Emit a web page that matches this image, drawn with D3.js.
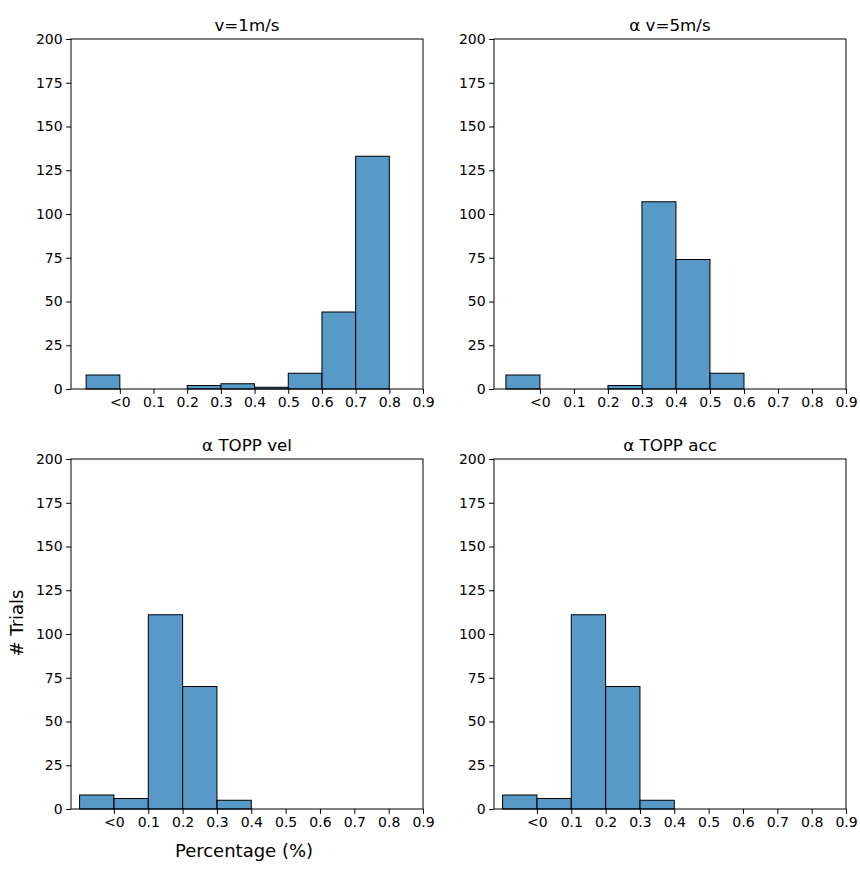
<!DOCTYPE html>
<html><head><meta charset="utf-8">
<script src="https://cdn.jsdelivr.net/npm/d3@7"></script>
<style>
body{margin:0;background:#fff;}
svg{font-family:"DejaVu Sans",sans-serif;}
</style></head>
<body>
<svg id="c" width="860" height="869"></svg>
<script>
// ---- data ----
const titles = ["v=1m/s", "α v=5m/s", "α TOPP vel", "α TOPP acc"];
const binStarts = [-0.1, 0.0, 0.1, 0.2, 0.3, 0.4, 0.5, 0.6, 0.7];
const countsV1 = [8, 0, 0, 2, 3, 1, 9, 44, 133];
const countsV5 = [8, 0, 0, 2, 107, 74, 9];
const countsVel = [8, 6, 111, 70, 5];
const countsAcc = [8, 6, 111, 70, 5];
const binWidth = 0.1;
const xTicks = [0, 0.1, 0.2, 0.3, 0.4, 0.5, 0.6, 0.7, 0.8, 0.9];
const xTickLabels = ["<0", "0.1", "0.2", "0.3", "0.4", "0.5", "0.6", "0.7", "0.8", "0.9"];
const yTicks = [0, 25, 50, 75, 100, 125, 150, 175, 200];
const xLabel = "Percentage (%)";
const yLabel = "# Trials";

const panels = [countsV1, countsV5, countsVel, countsAcc];

// ---- layout ----
const svg = d3.select("#c");
const cols = [71, 494], rows = [39, 459];
const W = 352, H = 350;
const fill = "rgba(31,119,180,0.75)";

panels.forEach((counts, i) => {
  const x0 = cols[i % 2], y0 = rows[Math.floor(i / 2)];
  const bins = counts.map((c, j) => ({x0: binStarts[j], x1: binStarts[j] + binWidth, c}));
  const lo = bins[0].x0, hi = bins[bins.length - 1].x1;
  const xmin = lo - 0.05 * (hi - lo);
  const x = d3.scaleLinear().domain([xmin, 0.9]).range([0, W]);
  const y = d3.scaleLinear().domain([0, 200]).range([H, 0]);
  const g = svg.append("g").attr("transform", `translate(${x0},${y0})`);

  g.selectAll("rect.bar").data(bins).join("rect")
    .attr("class", "bar")
    .attr("x", d => x(d.x0)).attr("width", d => x(d.x1) - x(d.x0))
    .attr("y", d => y(d.c)).attr("height", d => y(0) - y(d.c))
    .attr("fill", fill).attr("stroke", "#000").attr("stroke-width", 1);

  const xa = g.append("g").attr("transform", `translate(0,${H})`)
    .call(d3.axisBottom(x).tickValues(xTicks).tickFormat((d, k) => xTickLabels[k]).tickSize(4.9).tickPadding(3.5));
  const ya = g.append("g")
    .call(d3.axisLeft(y).tickValues(yTicks).tickSize(4.9).tickPadding(3.5));
  [xa, ya].forEach(a => {
    a.select(".domain").remove();
    a.selectAll("text").attr("font-size", "14px").attr("font-family", "DejaVu Sans").attr("fill", "#000");
    a.selectAll("line").attr("stroke", "#000").attr("stroke-width", 1);
  });

  g.append("rect").attr("x", 0).attr("y", 0).attr("width", W).attr("height", H)
    .attr("fill", "none").attr("stroke", "#000").attr("stroke-width", 1);

  g.append("text").attr("x", W / 2).attr("y", -8).attr("text-anchor", "middle")
    .attr("font-size", "16.7px").text(titles[i]);
});

svg.append("text").attr("x", 244).attr("y", 857).attr("text-anchor", "middle")
  .attr("font-size", "18px").text(xLabel);
svg.append("text").attr("transform", "translate(23,623) rotate(-90)").attr("text-anchor", "middle")
  .attr("font-size", "18px").text(yLabel);
</script>
</body></html>
